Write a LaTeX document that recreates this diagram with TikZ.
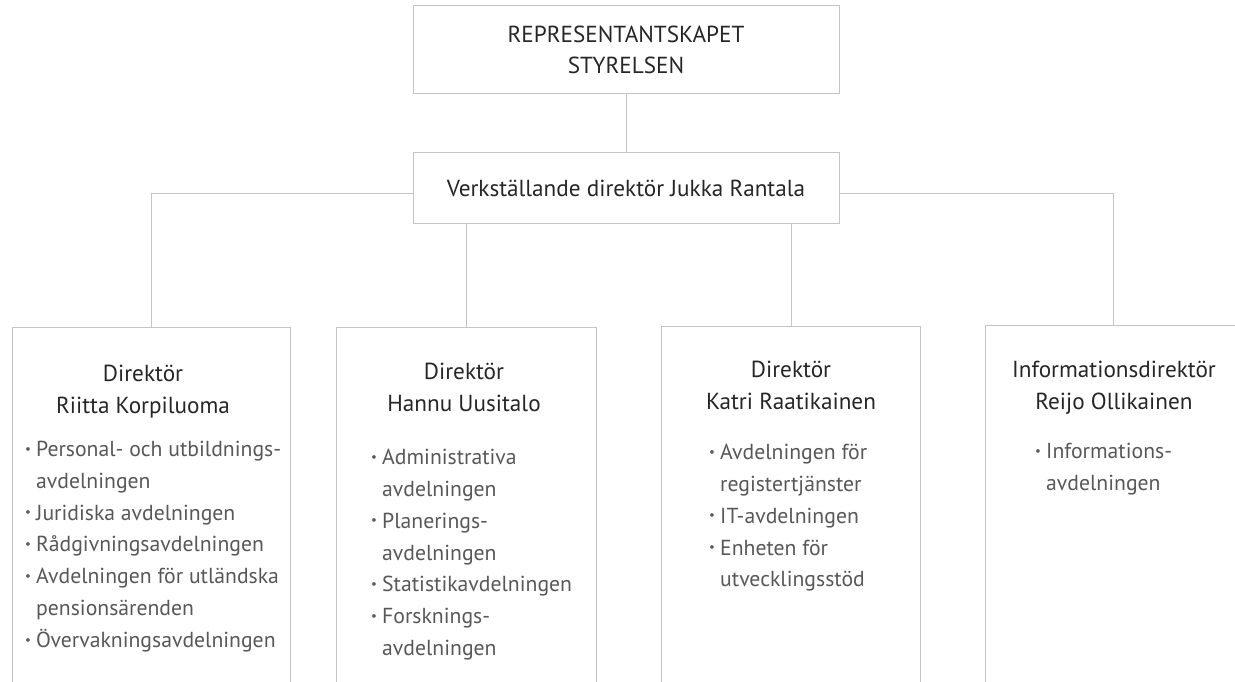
\documentclass[tikz,border=0pt]{standalone}
\usepackage{fontspec}
\setmainfont{PT Sans}
\definecolor{linegray}{HTML}{C4C4C4}
\definecolor{headtext}{HTML}{262626}
\definecolor{listtext}{HTML}{585858}
\newcommand{\bul}{\makebox[11pt][l]{\raisebox{0.3ex}{\scalebox{0.6}{\textbullet}}}}
\newcommand{\ind}{\hspace*{11pt}}
\tikzset{
  box/.style={draw=linegray, line width=1pt, inner sep=0pt},
  conn/.style={draw=linegray, line width=1pt},
  headfont/.style={font={\fontsize{23.2}{31.7}\selectfont}, text=headtext},
  head/.style={headfont, align=center, inner sep=0pt, anchor=north},
  list/.style={font={\fontsize{21.7}{31.8}\selectfont}, text=listtext, align=left, inner sep=0pt, anchor=north west}
}
\begin{document}
\begin{tikzpicture}[x=1pt,y=-1pt]
\useasboundingbox (0,0) rectangle (1235,682);
\clip (0,0) rectangle (1235,682);
\fill[white] (0,0) rectangle (1235,682);
% top boxes
\node[box, headfont, align=center, minimum width=426pt, minimum height=88pt] (top) at (626,50) {REPRESENTANTSKAPET\\STYRELSEN};
\node[box, headfont, minimum width=426pt, minimum height=70pt] (mid) at (626,188) {\raisebox{-3pt}{Verkställande direktör Jukka Rantala}};
% lower boxes (open at the bottom edge of the picture)
\node[box, anchor=north west, minimum width=278pt, minimum height=420pt] (b1) at (12,327) {};
\node[box, anchor=north west, minimum width=260pt, minimum height=420pt] (b2) at (336,327) {};
\node[box, anchor=north west, minimum width=259pt, minimum height=420pt] (b3) at (661,326) {};
\node[box, anchor=north west, minimum width=256pt, minimum height=420pt] (b4) at (985,325) {};
% connectors
\coordinate (jl) at (413,194);
\coordinate (jr) at (839,194);
\draw[conn] (top.south) -- (mid.north);
\draw[conn] (jl) -| (b1.north);
\draw[conn] (jr) -| (b4.north);
\draw[conn] (b2.north) -- (b2.north |- mid.south);
\draw[conn] (b3.north) -- (b3.north |- mid.south);
% headings
\node[head] (h1) at (143,365) {Direktör\\Riitta Korpiluoma};
\node[head] (h2) at (464,363) {Direktör\\Hannu Uusitalo};
\node[head] (h3) at (791,361) {Direktör\\Katri Raatikainen};
\node[head] (h4) at (1114,361) {Informationsdirektör\\Reijo Ollikainen};
% lists
\node[list] (l1) at (25,441) {\bul Personal- och utbildnings-\\\ind avdelningen\\\bul Juridiska avdelningen\\\bul Rådgivningsavdelningen\\\bul Avdelningen för utländska\\\ind pensionsärenden\\\bul Övervakningsavdelningen};
\node[list] (l2) at (371,449) {\bul Administrativa\\\ind avdelningen\\\bul Planerings-\\\ind avdelningen\\\bul Statistikavdelningen\\\bul Forsknings-\\\ind avdelningen};
\node[list] (l3) at (709,444) {\bul Avdelningen för\\\ind registertjänster\\\bul IT-avdelningen\\\bul Enheten för\\\ind utvecklingsstöd};
\node[list] (l4) at (1035,443) {\bul Informations-\\\ind avdelningen};
\end{tikzpicture}
\end{document}
